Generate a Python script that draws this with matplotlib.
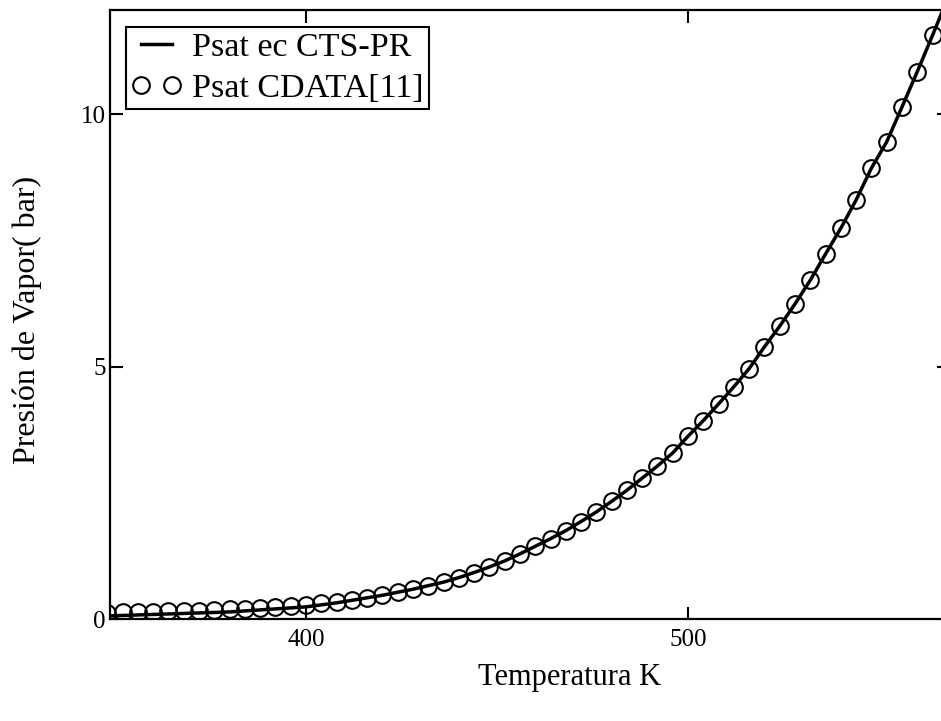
import matplotlib
matplotlib.use("Agg")
import matplotlib.pyplot as plt

# Temperatures (K) of the CDATA points
temp_K = [348, 352, 356, 360, 364, 368, 372, 376, 380, 384, 388, 392, 396, 400,
          404, 408, 412, 416, 420, 424, 428, 432, 436, 440, 444, 448, 452, 456,
          460, 464, 468, 472, 476, 480, 484, 488, 492, 496, 500, 504, 508, 512,
          516, 520, 524, 528, 532, 536, 540, 544, 548, 552, 556, 560, 564]

# Psat CDATA[11] (bar) - markers
psat_cdata = [0.12, 0.13, 0.14, 0.14, 0.15, 0.15, 0.16, 0.18, 0.19, 0.20, 0.22,
              0.24, 0.26, 0.28, 0.31, 0.34, 0.38, 0.42, 0.47, 0.53, 0.59, 0.66,
              0.73, 0.82, 0.92, 1.03, 1.15, 1.29, 1.44, 1.59, 1.75, 1.93, 2.12,
              2.33, 2.55, 2.79, 3.03, 3.29, 3.62, 3.93, 4.26, 4.60, 4.96, 5.39,
              5.80, 6.24, 6.71, 7.23, 7.74, 8.30, 8.93, 9.45, 10.14, 10.84, 11.56]

# Psat ec CTS-PR (bar) - line
line_T = temp_K + [568, 572]
psat_cts = [0.06, 0.07, 0.08, 0.09, 0.10, 0.11, 0.12, 0.13, 0.14, 0.16, 0.18,
            0.20, 0.22, 0.24, 0.28, 0.32, 0.37, 0.42, 0.47, 0.53, 0.59, 0.66,
            0.73, 0.82, 0.92, 1.03, 1.15, 1.29, 1.44, 1.59, 1.75, 1.93, 2.12,
            2.33, 2.55, 2.79, 3.03, 3.29, 3.62, 3.93, 4.26, 4.60, 4.96, 5.39,
            5.80, 6.24, 6.71, 7.23, 7.74, 8.30, 8.93, 9.45, 10.14, 10.84, 11.56,
            12.30, 13.05]

x_ticks = [400, 500]
y_ticks = [0, 5, 10]

plt.rcParams['font.family'] = ['Liberation Serif', 'DejaVu Serif']

W, H = 941, 721
AX_L, AX_R, AX_T, AX_B = 110, 949, 10, 619
fig = plt.figure(figsize=(W / 100, H / 100), dpi=100)
ax = fig.add_axes([AX_L / W, 1 - AX_B / H, (AX_R - AX_L) / W, (AX_B - AX_T) / H])

ax.plot(line_T, psat_cts, color='black', lw=2.5, label='Psat ec CTS-PR', zorder=3)
ax.plot(temp_K, psat_cdata, linestyle='none', marker='o', ms=12,
        mfc='none', mec='black', mew=1.5, label='Psat CDATA[11]', zorder=4)

ax.set_xlim(348.7, 568.3)
ax.set_ylim(0, 12.06)
ax.set_xticks(x_ticks)
ax.set_yticks(y_ticks)
ax.tick_params(direction='in', length=9, width=1.5, top=True, right=True,
               labelsize=18, pad=7)
ax.tick_params(axis='y', pad=3)
for s in ax.spines.values():
    s.set_linewidth(1.6)

fig.text(570 / W, 1 - 677 / H, 'Temperatura K', ha='center', va='center', fontsize=22)
fig.text(27 / W, 1 - 320 / H, 'Presión de Vapor( bar)', ha='center', va='center',
         rotation=90, fontsize=23)

leg = ax.legend(loc='upper left',
                bbox_to_anchor=((126 - AX_L) / (AX_R - AX_L), (AX_B - 27) / (AX_B - AX_T)),
                borderaxespad=0, numpoints=2, fontsize=24.5, fancybox=False,
                frameon=True, edgecolor='black', framealpha=1, handlelength=1.5,
                handletextpad=0.3, borderpad=0.15, labelspacing=0.3)
leg.get_frame().set_linewidth(1.5)

fig.savefig('out.png', dpi=100)
